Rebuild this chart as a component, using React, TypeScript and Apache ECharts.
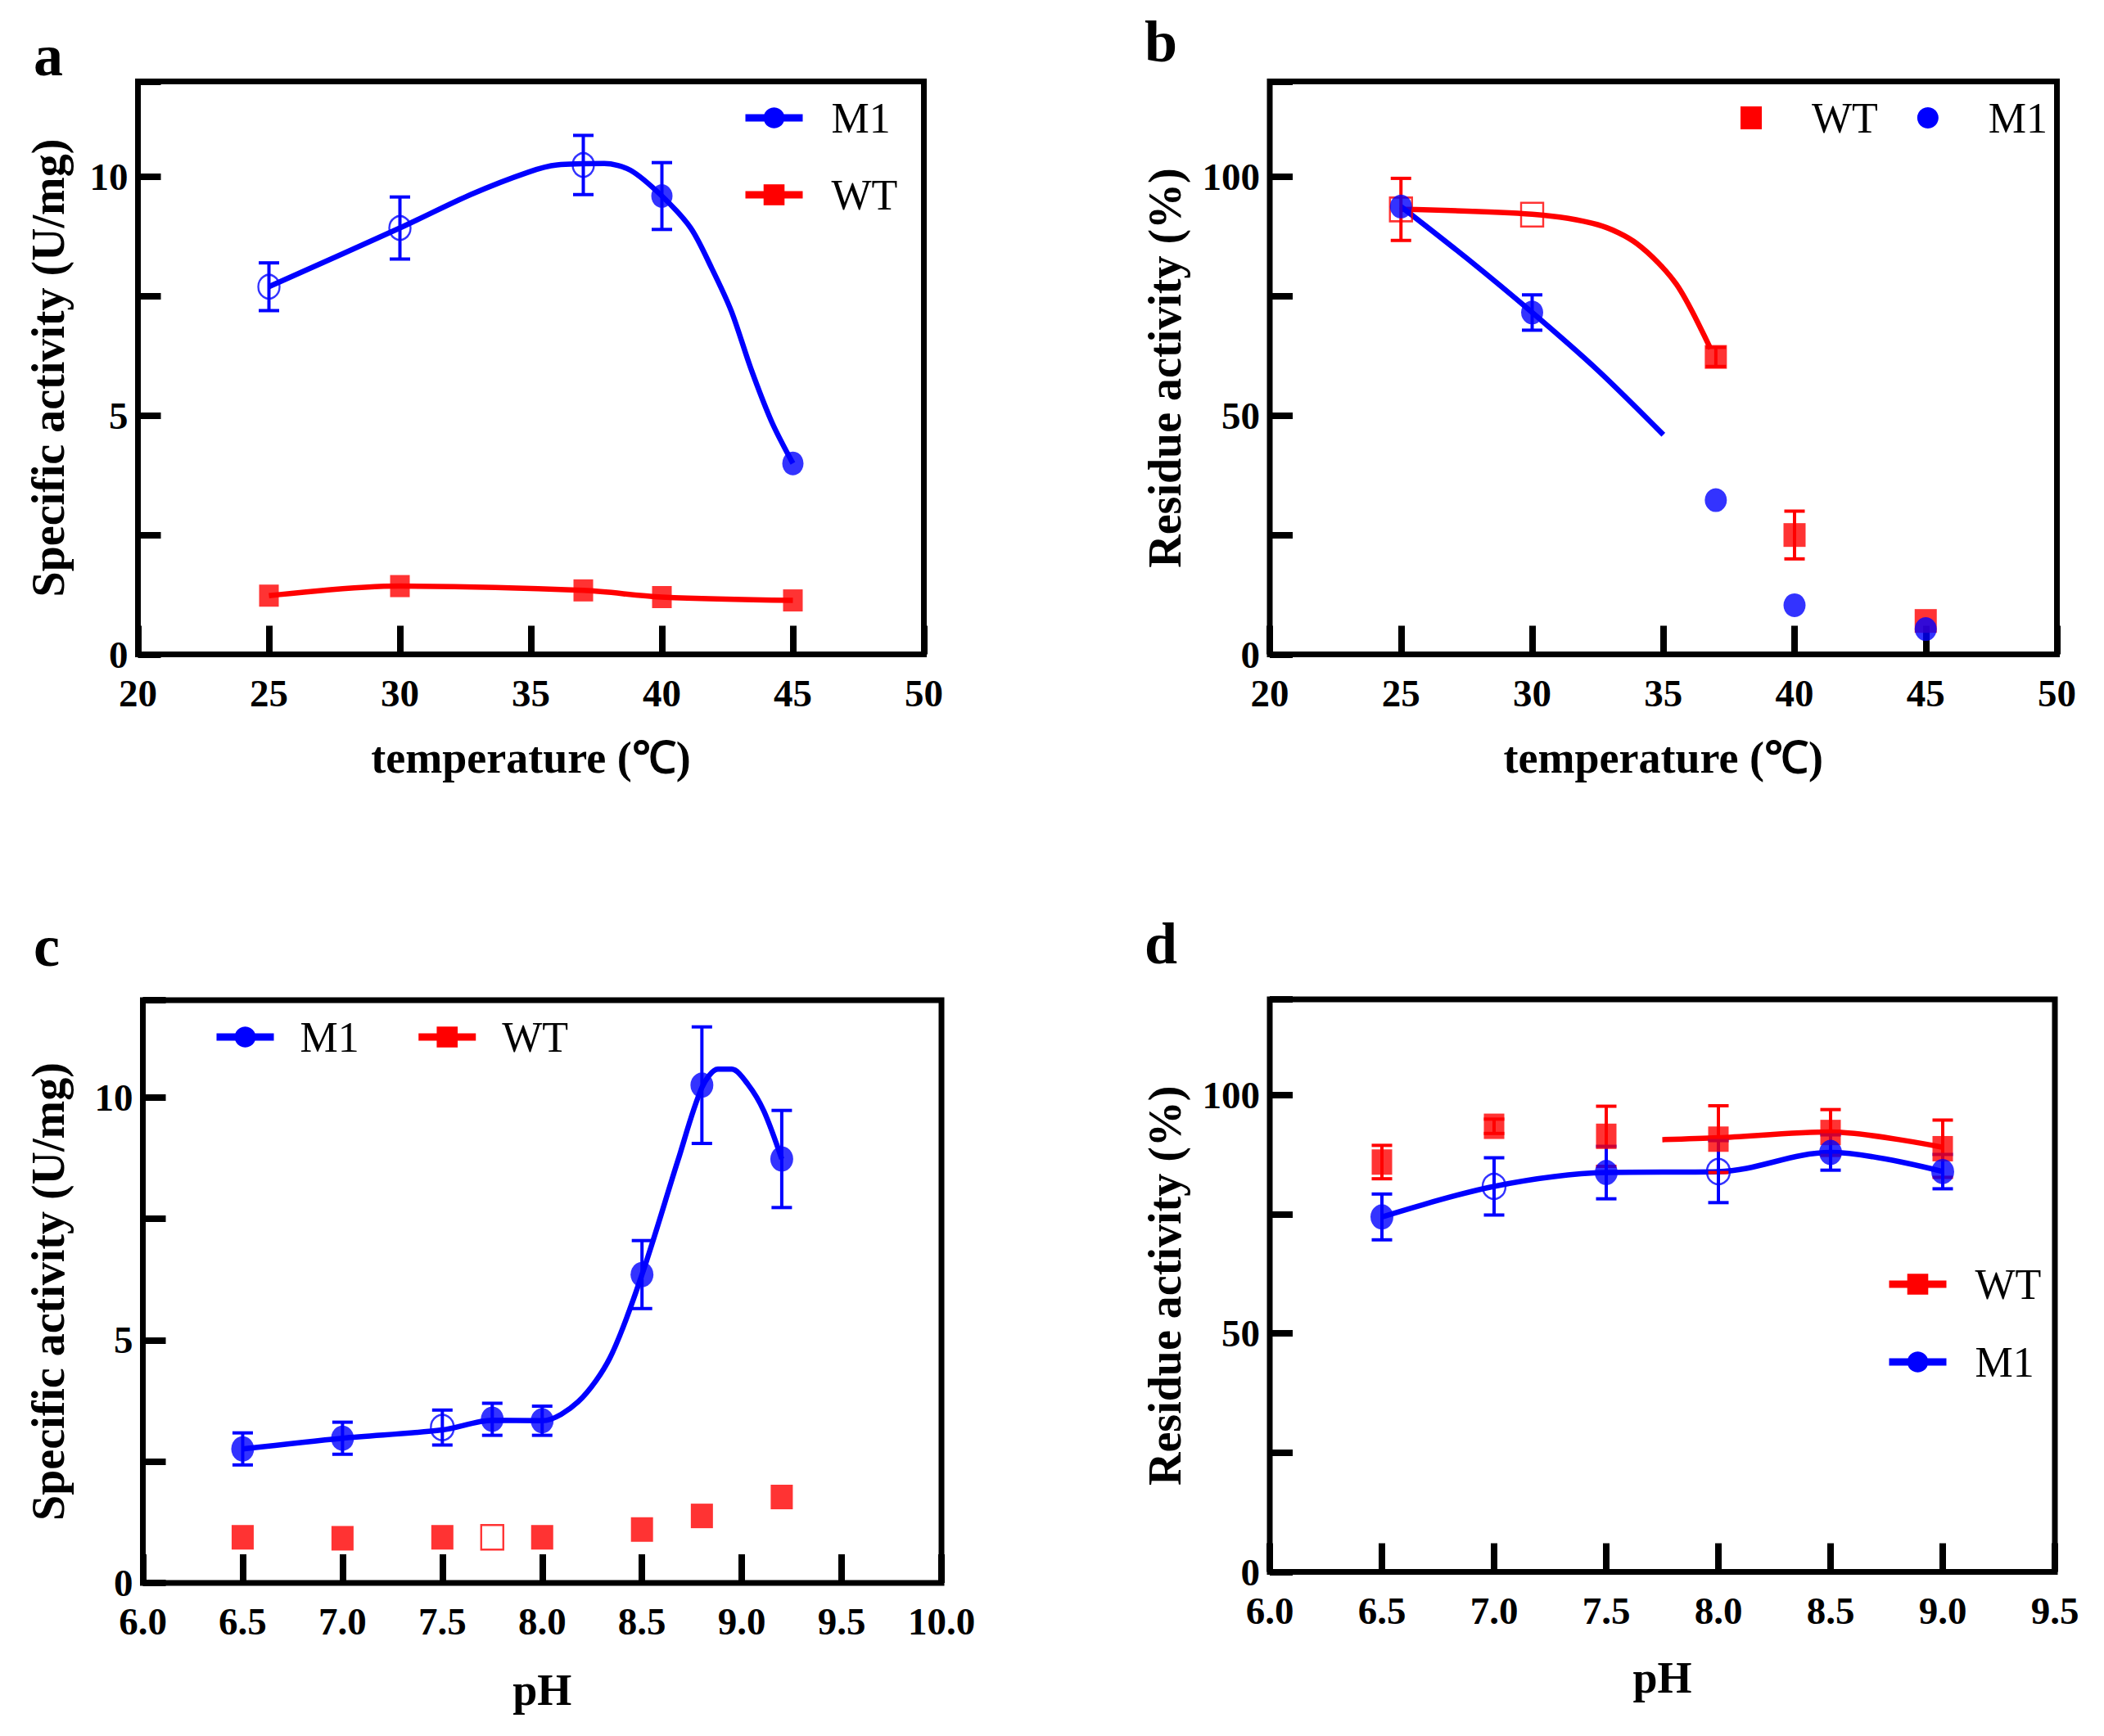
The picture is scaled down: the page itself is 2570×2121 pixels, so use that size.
import React, { useEffect, useRef } from "react";
import * as echarts from "echarts";

// ---------- Panel a: specific activity vs temperature ----------
const tempX = [25, 30, 37, 40, 45];
const aM1 = [7.7, 8.93, 10.25, 9.6, 4.0];
const aM1Err = [0.5, 0.65, 0.62, 0.7, 0];
const aM1Open = [true, true, true, false, false];
const aWT = [1.23, 1.43, 1.34, 1.2, 1.13];
const aWTErr = [0, 0, 0, 0, 0];
const aM1Curve = [[25, 7.7], [30, 8.93], [32.7, 9.63], [34.9, 10.1], [36, 10.25], [37.8, 10.28], [38.8, 10.14], [40, 9.6], [41.1, 8.93], [41.9, 8.09], [42.65, 7.19], [43.4, 5.98], [44.2, 4.86], [45, 4.0]];
const aWTCurve = [[25, 1.23], [30, 1.43], [37, 1.34], [40, 1.2], [45, 1.13]];

// ---------- Panel b: residual activity vs temperature ----------
const bWT = [93.2, 92.1, 62.3, 25, 7];
const bWTErr = [6.5, 0, 2, 5, 0];
const bWTOpen = [true, true, false, false, false];
const bM1 = [93.8, 71.6, 32.3, 10.3, 5.3];
const bM1Err = [0, 3.7, 0, 0, 0];
const bWTCurve = [[25, 93.2], [30, 92.2], [32.5, 90], [34, 86], [35.5, 77.5], [36.8, 64]];
const bM1Curve = [[25, 93.8], [27.5, 83], [30, 71.6], [32.5, 59.5], [35, 46]];

// ---------- Panel c: specific activity vs pH ----------
const phC = [6.5, 7.0, 7.5, 7.75, 8.0, 8.5, 8.8, 9.2];
const cM1 = [2.76, 2.98, 3.2, 3.37, 3.34, 6.35, 10.25, 8.73];
const cM1Err = [0.33, 0.33, 0.36, 0.33, 0.3, 0.7, 1.2, 1.0];
const cM1Open = [false, false, true, false, false, false, false, false];
const cWT = [0.94, 0.92, 0.94, 0.94, 0.94, 1.1, 1.38, 1.77];
const cWTOpen = [false, false, false, true, false, false, false, false];
const cM1Curve = [[6.5, 2.76], [7.0, 2.98], [7.5, 3.15], [7.75, 3.35], [8.0, 3.34], [8.18, 3.73], [8.34, 4.64], [8.5, 6.35], [8.68, 8.7], [8.8, 10.2], [8.88, 10.58], [8.95, 10.58], [9.03, 10.27], [9.11, 9.72], [9.2, 8.73]];

// ---------- Panel d: residual activity vs pH ----------
const phD = [6.5, 7.0, 7.5, 8.0, 8.5, 9.0];
const dWT = [85.9, 93.4, 91.3, 90.7, 92.1, 88.7];
const dWTErr = [3.5, 1.5, 6.3, 7, 4.8, 6];
const dM1 = [74.4, 80.8, 83.7, 83.9, 87.9, 83.9];
const dM1Err = [4.8, 6, 5.5, 6.5, 3.7, 3.6];
const dM1Open = [false, true, false, true, false, false];
const dWTCurve = [[7.75, 90.6], [8.0, 91.0], [8.5, 92.2], [9.0, 89.0]];
const dM1Curve = [[6.5, 74.4], [7.0, 80.8], [7.5, 83.7], [8.0, 83.9], [8.5, 87.9], [9.0, 83.9]];

// ---------- Labels ----------
const panelLetters = ["a", "b", "c", "d"];
const xTitles = ["temperature (℃)", "temperature (℃)", "pH", "pH"];
const yTitles = ["Specific activity (U/mg)", "Residue activity (%)", "Specific activity (U/mg)", "Residue activity (%)"];

const BLUE = "#0000FF";
const RED = "#FF0000";
const FONT = "'Liberation Serif', 'Times New Roman', serif";

function points(xs: number[], ys: number[], open: boolean[] | null, color: string) {
  return xs.map((x, i) => {
    const isOpen = open ? open[i] : false;
    return {
      value: [x, ys[i]],
      itemStyle: isOpen
        ? { color: "rgba(255,255,255,0)", borderColor: color, borderWidth: 2.5 }
        : { color, borderWidth: 0 },
    };
  });
}

function errBars(xs: number[], ys: number[], errs: number[], color: string, gi: number) {
  const data: number[][] = [];
  xs.forEach((x, i) => {
    if (errs[i] > 0) data.push([x, ys[i] - errs[i], ys[i] + errs[i]]);
  });
  return {
    type: "custom",
    xAxisIndex: gi,
    yAxisIndex: gi,
    z: 5,
    silent: true,
    data,
    encode: { x: 0, y: [1, 2] },
    renderItem: (params: any, api: any) => {
      const x = api.value(0);
      const lo = api.coord([x, api.value(1)]);
      const hi = api.coord([x, api.value(2)]);
      const w = 12.5;
      const style = { stroke: color, lineWidth: 4 };
      return {
        type: "group",
        children: [
          { type: "line", shape: { x1: hi[0], y1: hi[1], x2: lo[0], y2: lo[1] }, style },
          { type: "line", shape: { x1: hi[0] - w, y1: hi[1], x2: hi[0] + w, y2: hi[1] }, style },
          { type: "line", shape: { x1: lo[0] - w, y1: lo[1], x2: lo[0] + w, y2: lo[1] }, style },
        ],
      };
    },
  };
}

function curve(data: number[][], color: string, gi: number, smooth: number) {
  return {
    type: "line",
    xAxisIndex: gi,
    yAxisIndex: gi,
    data,
    smooth,
    symbol: "none",
    silent: true,
    z: 3,
    lineStyle: { color, width: 6.5 },
    emphasis: { disabled: true },
  };
}

function scatter(data: any[], symbol: string, size: number[], gi: number) {
  return {
    type: "scatter",
    xAxisIndex: gi,
    yAxisIndex: gi,
    data,
    symbol,
    symbolSize: size,
    z: 6,
    silent: true,
    emphasis: { disabled: true },
  };
}

const grids = [
  { left: 168.5, top: 99.5, width: 960, height: 700 },
  { left: 1551, top: 99.5, width: 961.5, height: 700 },
  { left: 174.5, top: 1222, width: 975.5, height: 712 },
  { left: 1551, top: 1221, width: 959, height: 699.5 },
];

function xAxis(gi: number, min: number, max: number, interval: number, gap: number, fixed: boolean, margin: number) {
  return {
    type: "value",
    gridIndex: gi,
    min,
    max,
    interval,
    name: xTitles[gi],
    nameLocation: "middle",
    nameGap: gap,
    nameTextStyle: { fontFamily: FONT, fontWeight: "bold", fontSize: 54, color: "#000" },
    splitLine: { show: false },
    axisLine: { show: false },
    axisTick: { show: true, inside: true, length: 35, lineStyle: { color: "#000", width: 8 } },
    axisLabel: {
      fontFamily: FONT,
      fontWeight: "bold",
      fontSize: 47,
      lineHeight: 40,
      color: "#000",
      margin,
      formatter: (v: number) => (fixed ? v.toFixed(1) : String(v)),
    },
  };
}

function yAxis(gi: number, max: number, interval: number, labelStep: number, gap: number) {
  return {
    type: "value",
    gridIndex: gi,
    min: 0,
    max,
    interval,
    name: yTitles[gi],
    nameLocation: "middle",
    nameGap: gap,
    nameTextStyle: { fontFamily: FONT, fontWeight: "bold", fontSize: 56, color: "#000" },
    splitLine: { show: false },
    axisLine: { show: false },
    axisTick: { show: true, inside: true, length: 28, lineStyle: { color: "#000", width: 8 } },
    axisLabel: {
      fontFamily: FONT,
      fontWeight: "bold",
      fontSize: 47,
      lineHeight: 40,
      color: "#000",
      margin: 12,
      formatter: (v: number) => (Math.abs(v % labelStep) < 1e-9 && v < max ? String(v) : ""),
    },
  };
}

const legendText = (pad: number) => ({
  fontFamily: FONT,
  fontSize: 52,
  color: "#000",
  lineHeight: 60,
  padding: [0, 0, 0, pad],
});

export default function App() {
  const ref = useRef<HTMLDivElement>(null);
  useEffect(() => {
    document.body.style.margin = "0";
    if (!ref.current) return;
    const chart = echarts.init(ref.current, null, { renderer: "svg" });
    const letterPos = [
      [41, 68],
      [1398, 51],
      [41, 1156],
      [1398, 1153],
    ];
    const lineLegend = { itemWidth: 70, itemHeight: 32, lineStyle: { width: 9 }, selectedMode: false, padding: 0 };
    const option: any = {
      animation: false,
      backgroundColor: "#fff",
      grid: grids.map((g) => ({
        ...g,
        show: true,
        borderColor: "#000",
        borderWidth: 7,
        backgroundColor: "rgba(0,0,0,0)",
        containLabel: false,
      })),
      xAxis: [
        xAxis(0, 20, 50, 5, 99, false, 27),
        xAxis(1, 20, 50, 5, 99, false, 27),
        xAxis(2, 6, 10, 0.5, 104, true, 27),
        xAxis(3, 6, 9.5, 0.5, 102, true, 27),
      ],
      yAxis: [
        yAxis(0, 12, 2.5, 5, 82),
        yAxis(1, 120, 25, 50, 100),
        yAxis(2, 12, 2.5, 5, 88),
        yAxis(3, 120, 25, 50, 100),
      ],
      legend: [
        {
          ...lineLegend,
          data: ["M1", "WT"],
          orient: "vertical",
          left: 906,
          top: 114,
          itemGap: 34,
          textStyle: legendText(30),
        },
        {
          data: [
            { name: "WT", icon: "rect" },
            { name: "M1", icon: "circle" },
          ],
          orient: "horizontal",
          left: 2126,
          top: 114,
          padding: 0,
          itemWidth: 26,
          itemHeight: 28,
          itemGap: 48,
          selectedMode: false,
          textStyle: legendText(56),
        },
        {
          ...lineLegend,
          data: ["M1", "WT"],
          orient: "horizontal",
          left: 260,
          top: 1237,
          itemGap: 68,
          textStyle: legendText(27),
        },
        {
          ...lineLegend,
          data: ["WT", "M1"],
          orient: "vertical",
          left: 2303,
          top: 1539,
          itemGap: 35,
          textStyle: legendText(30),
        },
      ],
      graphic: panelLetters.map((t, i) => ({
        type: "text",
        x: letterPos[i][0],
        y: letterPos[i][1],
        style: {
          text: t,
          fontFamily: FONT,
          fontWeight: "bold",
          fontSize: 72,
          fill: "#000",
          verticalAlign: "middle",
        },
      })),
      series: [
        // legend-only representatives
        { name: "M1", type: "line", xAxisIndex: 0, yAxisIndex: 0, data: [], symbol: "circle", itemStyle: { color: BLUE }, lineStyle: { color: BLUE, width: 9 } },
        { name: "WT", type: "line", xAxisIndex: 0, yAxisIndex: 0, data: [], symbol: "rect", itemStyle: { color: RED }, lineStyle: { color: RED, width: 9 } },

        // panel a
        curve(aM1Curve, BLUE, 0, 0.3),
        curve(aWTCurve, RED, 0, 0.35),
        errBars(tempX, aM1, aM1Err, BLUE, 0),
        errBars(tempX, aWT, aWTErr, RED, 0),
        scatter(points(tempX, aWT, null, RED), "rect", [24, 27], 0),
        scatter(points(tempX, aM1, aM1Open, BLUE), "circle", [26, 29], 0),

        // panel b
        curve(bWTCurve, RED, 1, 0.3),
        curve(bM1Curve, BLUE, 1, 0.3),
        errBars(tempX, bWT, bWTErr, RED, 1),
        errBars(tempX, bM1, bM1Err, BLUE, 1),
        scatter(points(tempX, bWT, bWTOpen, RED), "rect", [27, 29], 1),
        scatter(points(tempX, bM1, null, BLUE), "circle", [27, 29], 1),

        // panel c
        curve(cM1Curve, BLUE, 2, 0.3),
        errBars(phC, cM1, cM1Err, BLUE, 2),
        scatter(points(phC, cWT, cWTOpen, RED), "rect", [27, 30], 2),
        scatter(points(phC, cM1, cM1Open, BLUE), "circle", [28, 31], 2),

        // panel d
        curve(dWTCurve, RED, 3, 0.3),
        curve(dM1Curve, BLUE, 3, 0.35),
        errBars(phD, dWT, dWTErr, RED, 3),
        errBars(phD, dM1, dM1Err, BLUE, 3),
        scatter(points(phD, dWT, null, RED), "rect", [25, 31], 3),
        scatter(points(phD, dM1, dM1Open, BLUE), "circle", [28, 31], 3),
      ],
    };
    chart.setOption(option);
    return () => chart.dispose();
  }, []);
  return <div ref={ref} style={{ width: 2570, height: 2121 }} />;
}
